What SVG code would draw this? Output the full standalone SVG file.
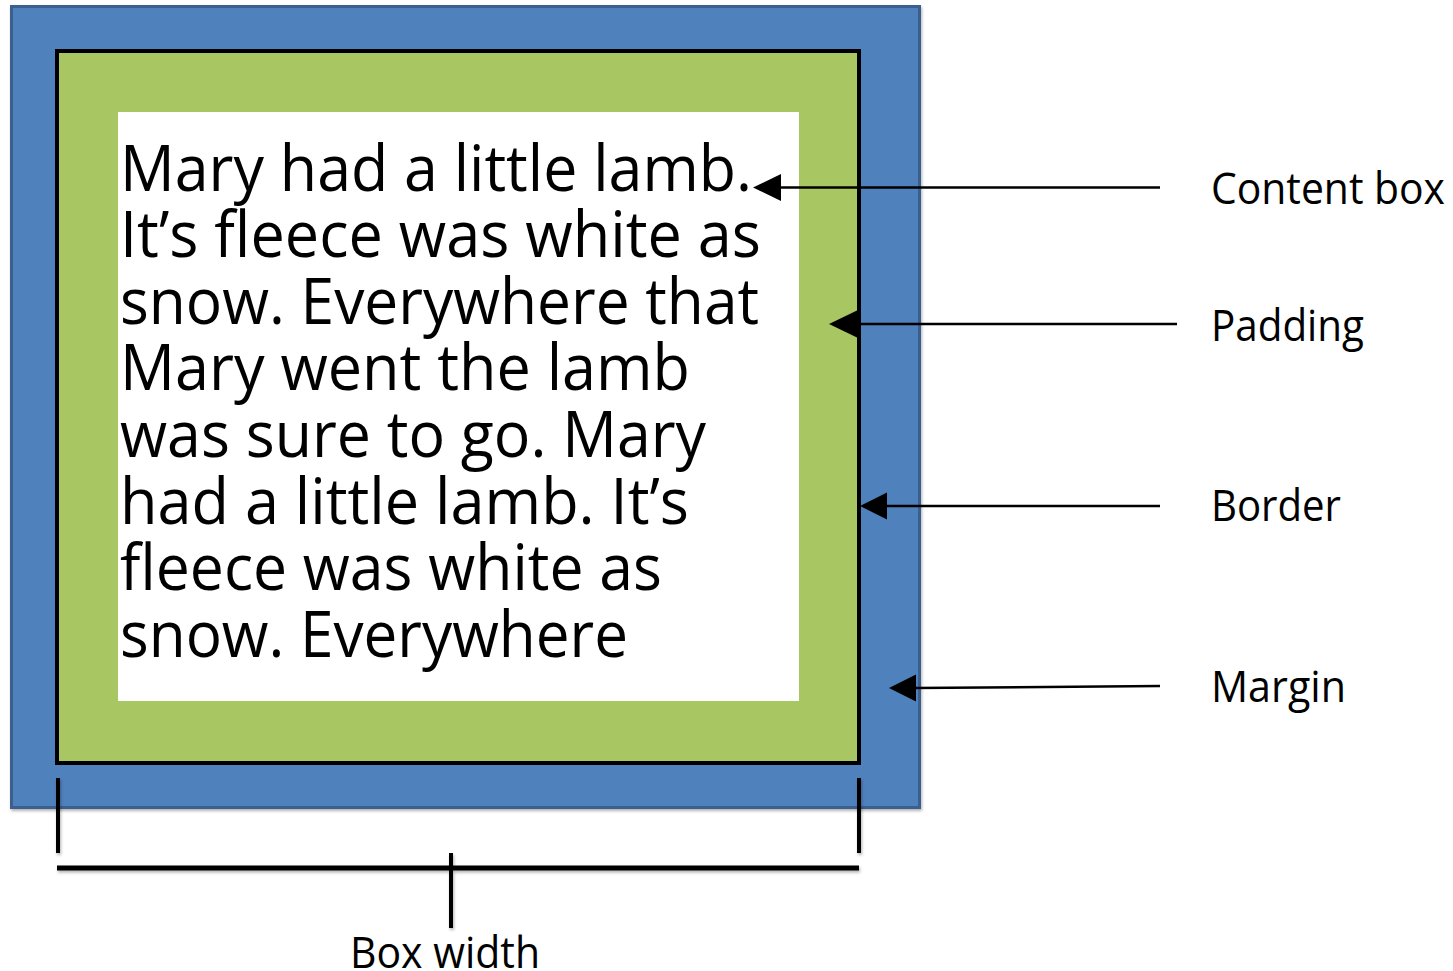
<svg xmlns="http://www.w3.org/2000/svg" width="1453" height="971" viewBox="0 0 1453 971">
<style>
.body{font-family:"Open Sans","Noto Sans",sans-serif;font-size:64px;fill:#000}
.lbl{font-family:"Open Sans","Noto Sans",sans-serif;font-size:43px;fill:#000}
.conn{stroke:#000;stroke-width:2.5;fill:none}
.dim{stroke:#000;stroke-width:4;fill:none}
</style>
<defs>
<marker id="arr" markerWidth="10" markerHeight="10" refX="9" refY="5" orient="auto" markerUnits="userSpaceOnUse" viewBox="0 0 10 10">
<path d="M0,0 L10,5 L0,10 z" fill="#000"/>
</marker>
<filter id="sh" x="-5%" y="-5%" width="110%" height="110%">
<feDropShadow dx="1" dy="2" stdDeviation="1.5" flood-color="#000" flood-opacity="0.3"/>
</filter>
</defs>
<rect width="1453" height="971" fill="#fff"/>
<g id="margin">
<rect x="11.5" y="6.5" width="908" height="801" fill="#4f81bd" stroke="#3b6190" stroke-width="3" filter="url(#sh)"/>
</g>
<g id="border">
<rect x="57" y="51" width="802" height="712" fill="#a8c763" stroke="#000" stroke-width="4"/>
</g>
<g id="content">
<rect x="118" y="112" width="681" height="589" fill="#fff"/>
<text class="body" x="120" y="190.5" textLength="632" lengthAdjust="spacingAndGlyphs">Mary had a little lamb.</text>
<text class="body" x="120" y="257" textLength="641" lengthAdjust="spacingAndGlyphs">It’s fleece was white as</text>
<text class="body" x="120" y="323.5" textLength="639" lengthAdjust="spacingAndGlyphs">snow. Everywhere that</text>
<text class="body" x="120" y="390" textLength="570" lengthAdjust="spacingAndGlyphs">Mary went the lamb</text>
<text class="body" x="120" y="457" textLength="586" lengthAdjust="spacingAndGlyphs">was sure to go. Mary</text>
<text class="body" x="120" y="523.5" textLength="569" lengthAdjust="spacingAndGlyphs">had a little lamb. It’s</text>
<text class="body" x="120" y="590" textLength="542" lengthAdjust="spacingAndGlyphs">fleece was white as</text>
<text class="body" x="120" y="656.5" textLength="508" lengthAdjust="spacingAndGlyphs">snow. Everywhere</text>
</g>
<g id="labels">
<text class="lbl" x="1211" y="204" textLength="234" lengthAdjust="spacingAndGlyphs">Content box</text>
<text class="lbl" x="1211" y="341" textLength="153" lengthAdjust="spacingAndGlyphs">Padding</text>
<text class="lbl" x="1211" y="521" textLength="130" lengthAdjust="spacingAndGlyphs">Border</text>
<text class="lbl" x="1211" y="702" textLength="135" lengthAdjust="spacingAndGlyphs">Margin</text>
<text class="lbl" x="350" y="968" textLength="190" lengthAdjust="spacingAndGlyphs">Box width</text>
</g>
<g id="connectors">
<line class="conn" x1="1160" y1="187.5" x2="780" y2="187.5"/>
<path d="M753,187.5 L781,174 L781,201 z" fill="#000"/>
<line class="conn" x1="1177" y1="324" x2="855" y2="324"/>
<path d="M829,324 L857,310.5 L857,337.5 z" fill="#000"/>
<line class="conn" x1="1160" y1="506" x2="885" y2="506"/>
<path d="M860,506 L887,492.5 L887,519.5 z" fill="#000"/>
<line class="conn" x1="1160" y1="686" x2="914" y2="688"/>
<path d="M889,688 L916,674.5 L916,701.5 z" fill="#000"/>
</g>
<g id="dimension" filter="url(#sh)">
<line class="dim" x1="58" y1="778" x2="58" y2="853"/>
<line class="dim" x1="859" y1="778" x2="859" y2="853"/>
<line x1="57" y1="868" x2="859" y2="868" stroke="#000" stroke-width="5"/>
<line class="dim" x1="451" y1="853" x2="451" y2="928"/>
</g>
</svg>
